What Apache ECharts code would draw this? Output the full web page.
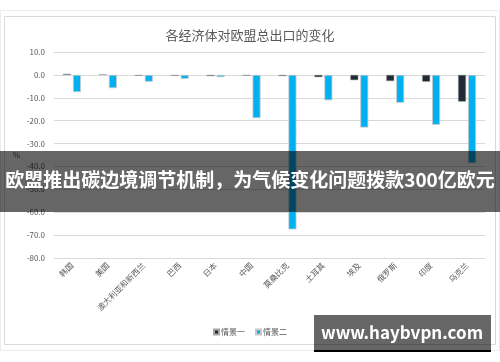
<!DOCTYPE html>
<html><head><meta charset="utf-8">
<script src="https://cdn.jsdelivr.net/npm/echarts@6/dist/echarts.min.js"></script>
<style>html,body{margin:0;padding:0;background:#fff}#c{width:500px;height:362px}</style>
</head><body><div id="c"></div>
<script>
var categories = ['韩国','美国','澳大利亚和新西兰','巴西','日本','中国','莫桑比克','土耳其','埃及','俄罗斯','印度','乌克兰'];
var scenario1 = [0.5, 0.3, -0.4, -0.4, -0.5, -0.4, -0.5, -1.0, -2.3, -2.7, -3.0, -11.7];
var scenario2 = [-7.5, -5.8, -3.0, -1.7, -1.0, -18.9, -67.5, -11.1, -23.0, -12.2, -21.8, -38.6];
var seriesNames = ['情景一','情景二'];
var titleText = '各经济体对欧盟总出口的变化';
var bannerText = '欧盟推出碳边境调节机制，为气候变化问题拨款300亿欧元';
var watermarkText = 'www.haybvpn.com';

var FONT = '"Noto Sans CJK SC","Noto Sans",sans-serif';
var chart = echarts.init(document.getElementById('c'), null, {renderer:'canvas'});
chart.setOption({
  animation:false,
  textStyle:{fontFamily:FONT},
  title:{text:titleText,left:'center',top:24,textStyle:{fontSize:13,fontWeight:'normal',color:'#595959',fontFamily:FONT}},
  grid:{left:54,right:15,top:52,bottom:104,containLabel:false},
  legend:{bottom:21,left:'center',itemWidth:5,itemHeight:5,itemGap:10,icon:'rect',
    textStyle:{fontSize:8,color:'#595959',padding:[0,0,0,-3]},data:seriesNames},
  xAxis:{type:'category',data:categories,
    axisLine:{show:false},axisTick:{show:false},
    axisLabel:{rotate:45,fontSize:8,color:'#595959',margin:6,interval:0}},
  yAxis:{type:'value',min:-80,max:10,interval:10,name:'%',nameLocation:'middle',nameGap:34,nameRotate:0,
    nameTextStyle:{fontSize:8,color:'#595959'},
    axisLine:{show:false},axisTick:{show:false},
    axisLabel:{fontSize:8,color:'#595959',margin:9,formatter:function(v){return v.toFixed(1);}},
    splitLine:{lineStyle:{color:'#d9d9d9',width:1}}},
  series:[
    {name:seriesNames[0],type:'bar',data:scenario1,barWidth:8,barGap:'25%',
      itemStyle:{color:'#222a35',borderColor:'#a6a6a6',borderWidth:0.5}},
    {name:seriesNames[1],type:'bar',data:scenario2,barWidth:8,barGap:'25%',
      itemStyle:{color:'#00b0f0',borderColor:'#c8c8c8',borderWidth:0.8}}
  ],
  graphic:[
    {type:'rect',shape:{x:0.5,y:10.5,width:499,height:340},style:{fill:'none',stroke:'#ececec',lineWidth:1},z:-1,silent:true},
    {type:'rect',shape:{x:4.5,y:16.5,width:491,height:328},style:{fill:'none',stroke:'#d9d9d9',lineWidth:1},z:-1,silent:true},
    {type:'rect',shape:{x:0,y:151,width:500,height:61},style:{fill:'rgba(0,0,0,0.6)'},z:100,silent:true},
    {type:'text',left:'center',top:170,style:{text:bannerText,fill:'#fff',font:'bold 19px '+FONT},z:101,silent:true},
    {type:'rect',shape:{x:314,y:315,width:177,height:35},style:{fill:'rgba(0,0,0,0.6)'},z:100,silent:true},
    {type:'rect',shape:{x:314,y:350,width:177,height:2},style:{fill:'#000'},z:100,silent:true},
    {type:'text',x:402,y:333,style:{text:watermarkText,fill:'#fff',font:'bold 17px '+FONT,textAlign:'center',textVerticalAlign:'middle'},z:101,silent:true}
  ]
});
</script></body></html>
